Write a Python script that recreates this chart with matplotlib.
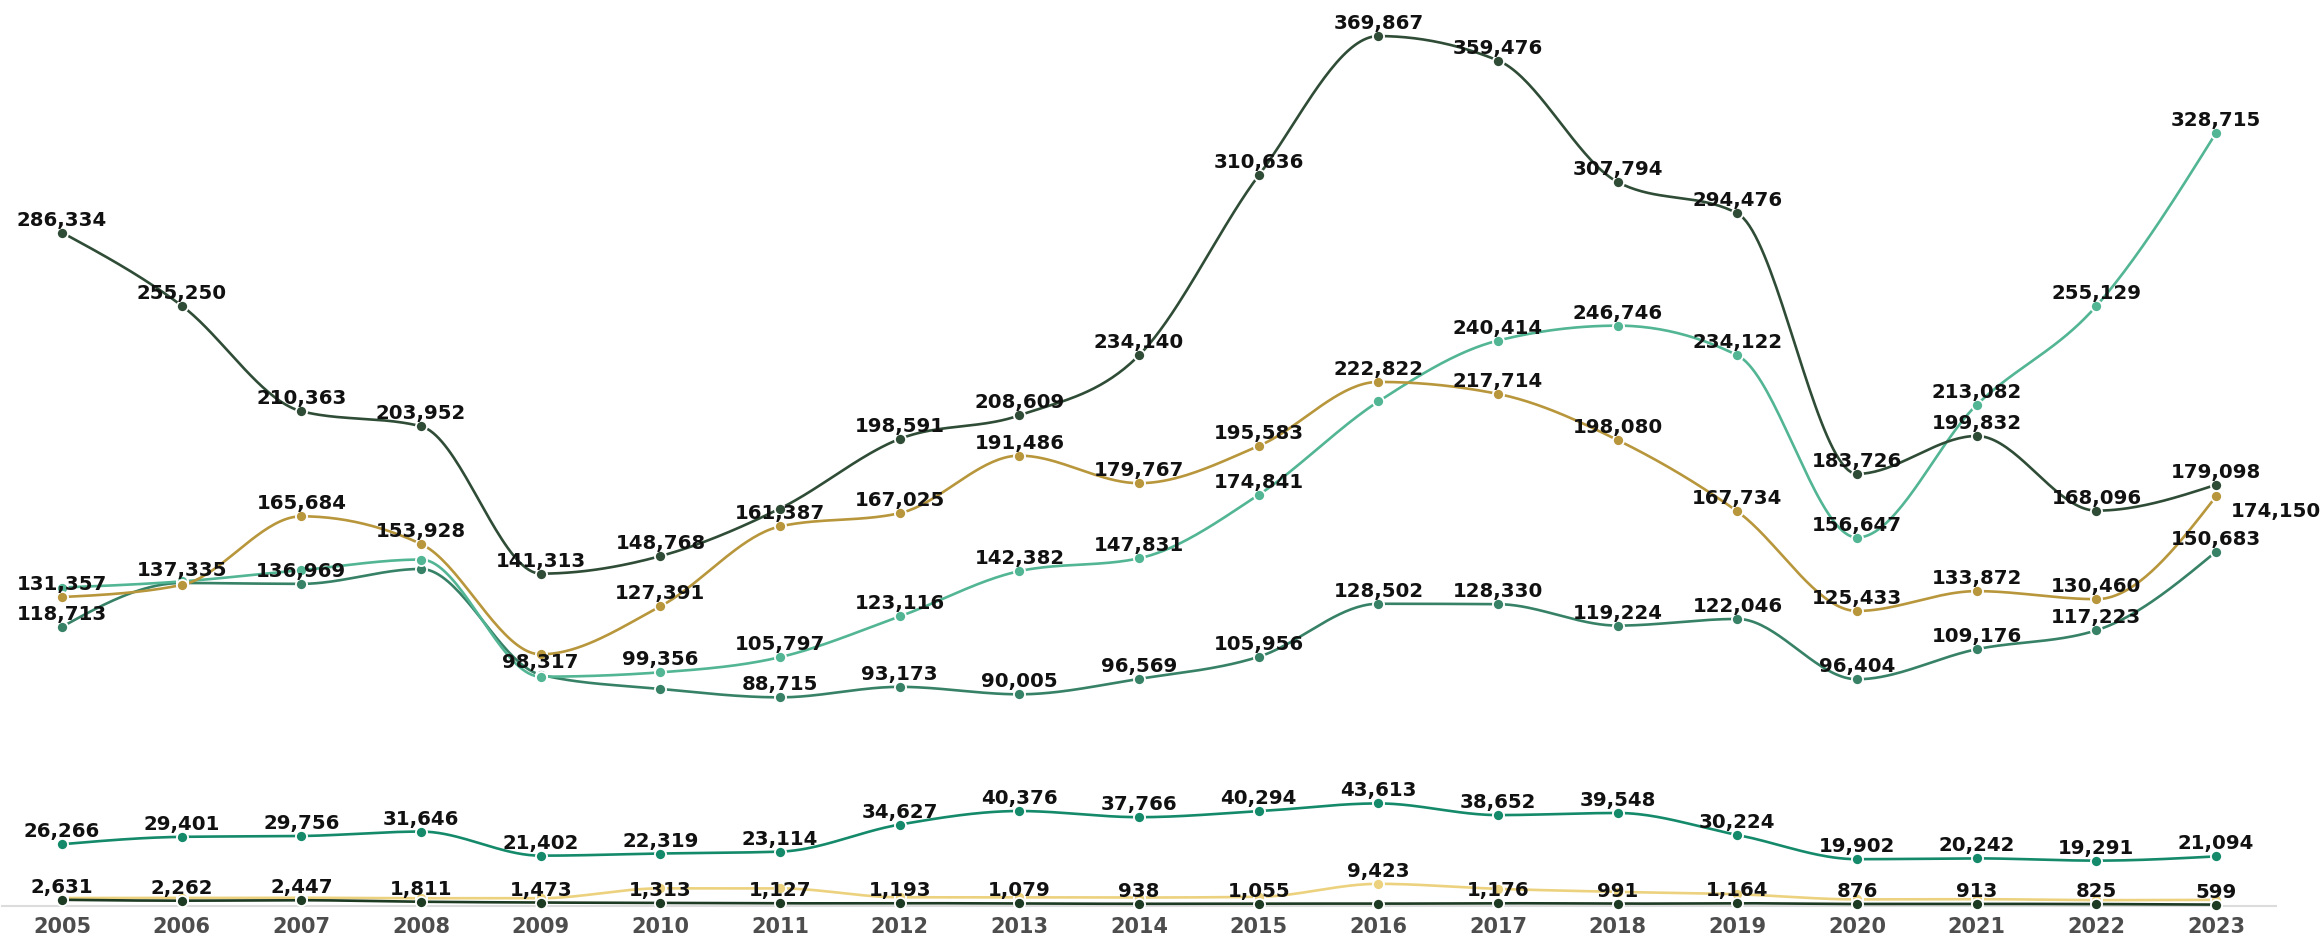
import numpy as np
import matplotlib
matplotlib.use("Agg")
import matplotlib.pyplot as plt

years = [str(y) for y in range(2005, 2024)]

series_top = [286334, 255250, 210363, 203952, 141313, 148768, 169000, 198591, 208609, 234140,
              310636, 369867, 359476, 307794, 294476, 183726, 199832, 168096, 179098]
series_gold = [131357, 136500, 165684, 153928, 107000, 127391, 161387, 167025, 191486, 179767,
               195583, 222822, 217714, 198080, 167734, 125433, 133872, 130460, 174150]
series_lteal = [135400, 138000, 142800, 147300, 97500, 99356, 105797, 123116, 142382, 147831,
                174841, 214500, 240414, 246746, 234122, 156647, 213082, 255129, 328715]
series_mid = [118713, 137335, 136969, 143300, 98317, 92300, 88715, 93173, 90005, 96569,
              105956, 128502, 128330, 119224, 122046, 96404, 109176, 117223, 150683]
series_teal = [26266, 29401, 29756, 31646, 21402, 22319, 23114, 34627, 40376, 37766,
               40294, 43613, 38652, 39548, 30224, 19902, 20242, 19291, 21094]
series_yellow = [3400, 3400, 3500, 3300, 3300, 7500, 7500, 3700, 3700, 3600,
                 3900, 9423, 7300, 6000, 5000, 2800, 2900, 2500, 2600]
series_dark = [2631, 2262, 2447, 1811, 1473, 1313, 1127, 1193, 1079, 938,
               1055, 1000, 1176, 991, 1164, 876, 913, 825, 599]

# which points carry a visible label
labels_top = [True] * 19; labels_top[6] = False
labels_gold = [True] * 19; labels_gold[1] = False; labels_gold[4] = False
labels_lteal = [False] * 5 + [True] * 14; labels_lteal[11] = False
labels_mid = [True] * 19; labels_mid[3] = False; labels_mid[5] = False
labels_teal = [True] * 19
labels_yellow = [False] * 19; labels_yellow[11] = True
labels_dark = [True] * 19; labels_dark[11] = False

colors = {
    "top": "#2f4c36",
    "gold": "#b8963b",
    "lteal": "#52b594",
    "mid": "#378267",
    "teal": "#148a6b",
    "yellow": "#ecd27e",
    "dark": "#1d3a22",
}


def monotone_curve(xs, ys, n=40):
    xs = np.asarray(xs, float)
    ys = np.asarray(ys, float)
    h = np.diff(xs)
    s = np.diff(ys) / h
    m = len(xs)
    t = np.zeros(m)
    for i in range(1, m - 1):
        s0, s1 = s[i - 1], s[i]
        h0, h1 = h[i - 1], h[i]
        p = (s0 * h1 + s1 * h0) / (h0 + h1)
        t[i] = (np.sign(s0) + np.sign(s1)) * min(abs(s0), abs(s1), 0.5 * abs(p))
    t[0] = (3 * s[0] - t[1]) / 2
    t[-1] = (3 * s[-1] - t[-2]) / 2
    X, Y = [], []
    for i in range(m - 1):
        u = np.linspace(0, 1, n, endpoint=(i == m - 2))
        hh = h[i]
        h00 = 2 * u**3 - 3 * u**2 + 1
        h10 = u**3 - 2 * u**2 + u
        h01 = -2 * u**3 + 3 * u**2
        h11 = u**3 - u**2
        X.append(xs[i] + u * hh)
        Y.append(h00 * ys[i] + h10 * hh * t[i] + h01 * ys[i + 1] + h11 * hh * t[i + 1])
    return np.concatenate(X), np.concatenate(Y)


W, H = 2321, 937
fig = plt.figure(figsize=(W / 100, H / 100), dpi=100)
zero_px = 907.0
ax = fig.add_axes([2.2 / W, (H - zero_px) / H, 2273.7 / W, zero_px / H])
ax.set_xlim(-0.5, 18.5)
ax.set_ylim(0, zero_px / 0.002352)

x = np.arange(len(years))

order = [
    ("yellow", series_yellow, labels_yellow),
    ("dark", series_dark, labels_dark),
    ("teal", series_teal, labels_teal),
    ("mid", series_mid, labels_mid),
    ("lteal", series_lteal, labels_lteal),
    ("gold", series_gold, labels_gold),
    ("top", series_top, labels_top),
]

for k, (name, vals, labs) in enumerate(order):
    c = colors[name]
    cx, cy = monotone_curve(x, vals)
    ax.plot(cx, cy, color=c, lw=1.9, zorder=2 + k * 0.1, clip_on=False,
            solid_capstyle="round")
    ax.plot(x, vals, "o", ms=8, mfc=c, mec="white", mew=1.3, zorder=3 + k * 0.1,
            clip_on=False)
    for xi, v, show in zip(x, vals, labs):
        if not show:
            continue
        off = (0, 8)
        if name == "gold" and xi == 18:
            off = (60, -20)
        ax.annotate(f"{v:,}", (xi, v), xytext=off, textcoords="offset pixels",
                    ha="center", va="baseline", fontsize=14.2, fontweight="bold",
                    color="#111111", family="DejaVu Sans", zorder=10,
                    annotation_clip=False)

for sp in ["top", "right", "left"]:
    ax.spines[sp].set_visible(False)
ax.spines["bottom"].set_color("#dcdcdc")
ax.spines["bottom"].set_linewidth(1.5)
ax.spines["bottom"].set_zorder(1)
ax.set_yticks([])
ax.set_xticks(x)
ax.set_xticklabels(years, fontsize=15, fontweight="bold", color="#4d4d4d",
                   family="DejaVu Sans")
ax.tick_params(axis="x", length=0, pad=7)
ax.patch.set_visible(False)

fig.savefig("out.png", dpi=100, facecolor="white")
